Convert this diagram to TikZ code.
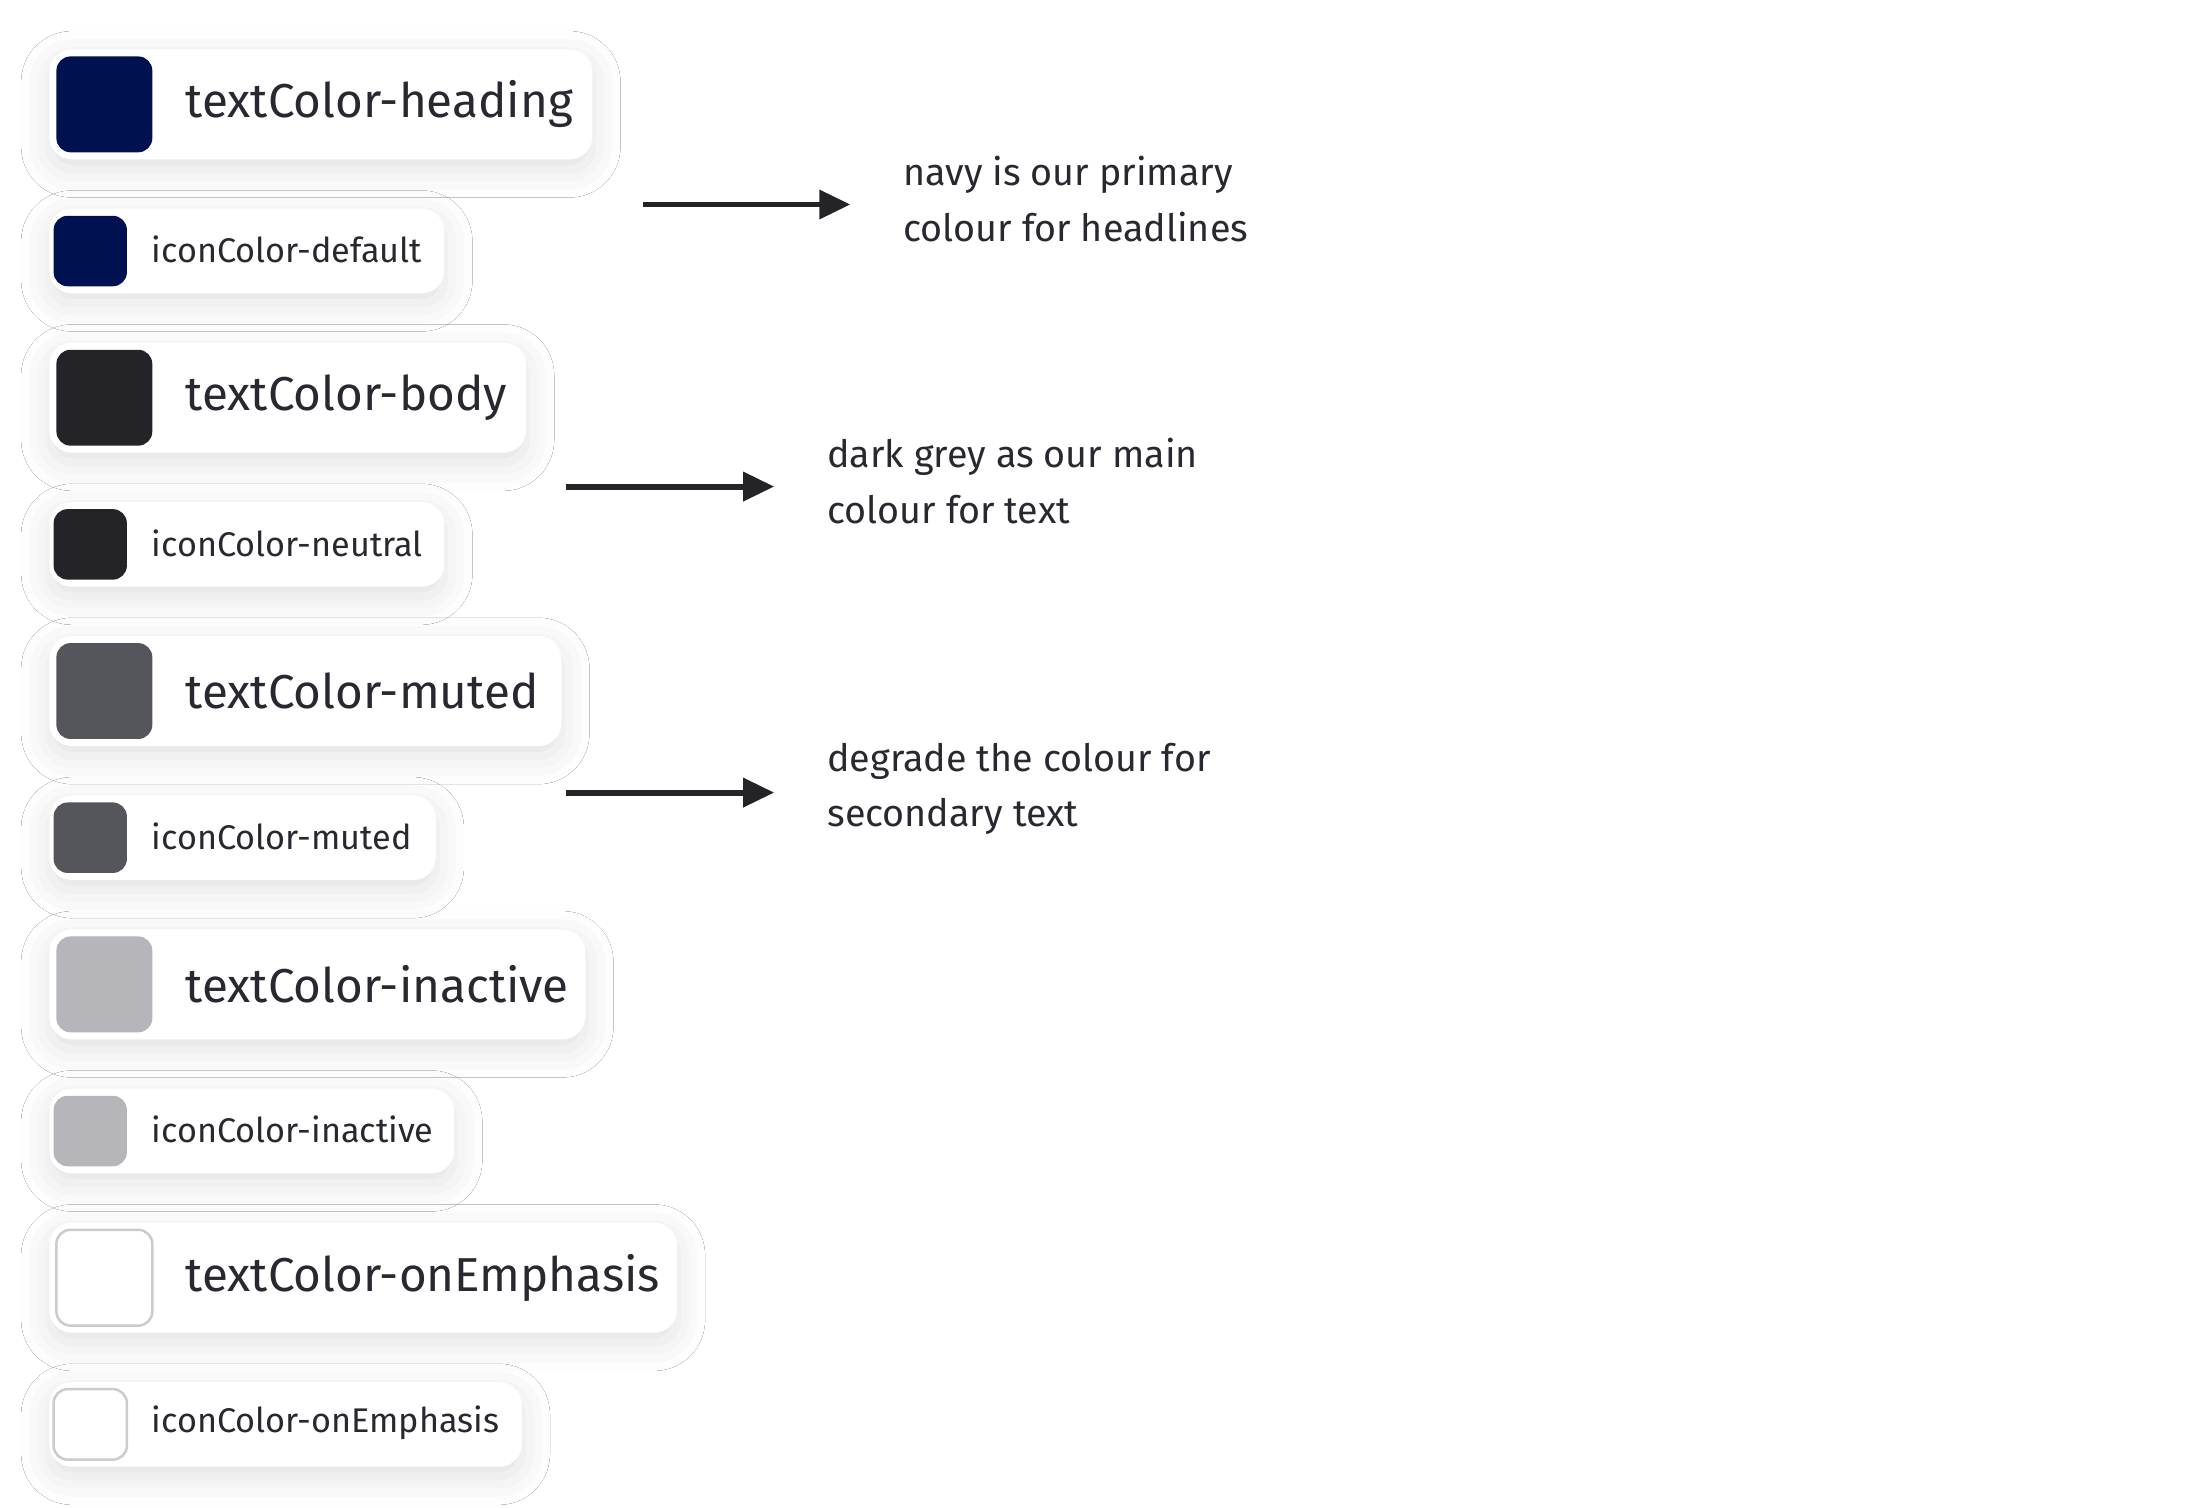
\documentclass[tikz,border=0pt]{standalone}
\usepackage{fontspec}
\setmainfont{Fira Sans}
\usetikzlibrary{shadows.blur,arrows.meta}
\definecolor{navy}{HTML}{001152}
\definecolor{dark}{HTML}{232328}
\definecolor{muted}{HTML}{55555C}
\definecolor{inact}{HTML}{B5B5BA}
\definecolor{txt}{HTML}{282830}
\begin{document}
\begin{tikzpicture}[x=0.01cm,y=-0.01cm,
 card/.style={fill=white,rounded corners=0.16cm,blur shadow={shadow xshift=0pt,shadow yshift=-2pt,shadow blur radius=0.2cm,shadow opacity=12}},
 sw/.style={rounded corners=0.1cm,draw=none},
 big/.style={font=\fontsize{9.6pt}{11pt}\selectfont,text=txt,anchor=west,inner sep=0},
 small/.style={font=\fontsize{6.9pt}{8pt}\selectfont,text=txt,anchor=west,inner sep=0},
 note/.style={font=\fontsize{7.6pt}{11.2pt}\selectfont,text=txt,anchor=north west,align=left,inner sep=0},
 arr/.style={line width=1.2pt,draw=dark,-{Triangle[length=0.22cm,width=0.2cm]}}]
\useasboundingbox[fill=white] (0,0) rectangle (1560,1069);
\foreach \i/\bw/\sw/\c/\bt/\st in {0/420/315/navy/heading/default,1/373/315/dark/body/neutral,2/398/309/muted/muted/muted,3/415/322/inact/inactive/inactive,4/480/370/white/onEmphasis/onEmphasis}{
 \pgfmathsetmacro{\y}{35+208*\i}
 \path[card] (35,\y) rectangle (\bw,\y+78);
 \path[sw,fill=\c] (40,\y+5) rectangle (108,\y+73);
 \node[big] (b\i) at (131,\y+39) {textColor-\bt};
 \path[card] (35,\y+113) rectangle (\sw,\y+173);
 \path[sw,fill=\c] (38,\y+118) rectangle (90,\y+168);
 \node[small] (s\i) at (107,\y+142) {iconColor-\st};
}
\draw[rounded corners=0.1cm,draw=inact!70,line width=0.5pt] (40,872) rectangle (108,940);
\draw[rounded corners=0.1cm,draw=inact!70,line width=0.5pt] (38,985) rectangle (90,1035);
\coordinate (a1) at (456,145); \coordinate (a1e) at (603,145);
\coordinate (a2) at (401,345); \coordinate (a2e) at (549,345);
\coordinate (a3) at (401,562); \coordinate (a3e) at (549,562);
\draw[arr] (a1) -- (a1e);
\draw[arr] (a2) -- (a2e);
\draw[arr] (a3) -- (a3e);
\node[note] (n1) at (640,110) {navy is our primary\\colour for headlines};
\node[note] (n2) at (586,310) {dark grey as our main\\colour for text};
\node[note] (n3) at (586,526) {degrade the colour for\\secondary text};
\end{tikzpicture}
\end{document}
